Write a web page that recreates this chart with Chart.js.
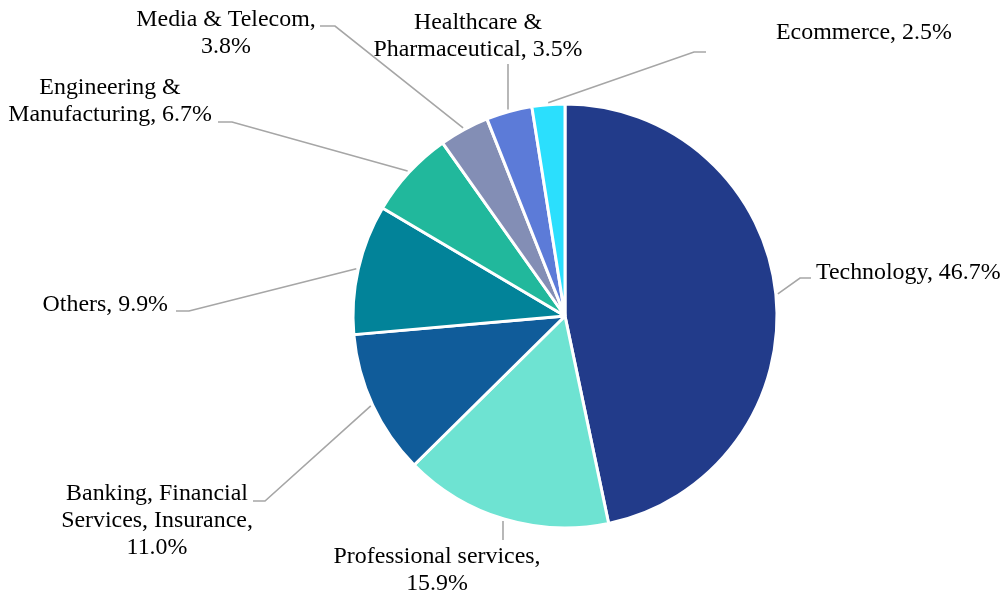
<!DOCTYPE html>
<html>
<head>
<meta charset="utf-8">
<script src="https://cdn.jsdelivr.net/npm/chart.js@4/dist/chart.umd.min.js"></script>
<style>
  html, body { margin: 0; padding: 0; background: #ffffff; }
  #wrap { width: 1004px; height: 595px; }
</style>
</head>
<body>
<div id="wrap"><canvas id="c" width="1004" height="595"></canvas></div>
<script>
// Share of hires by sector (%), clockwise from 12 o'clock
const categories = [
  'Technology',
  'Professional services',
  'Banking, Financial Services, Insurance',
  'Others',
  'Engineering & Manufacturing',
  'Media & Telecom',
  'Healthcare & Pharmaceutical',
  'Ecommerce'
];
const shares = [46.7, 15.9, 11.0, 9.9, 6.7, 3.8, 3.5, 2.5];
const sliceColors = ['#223B8A', '#6EE3D2', '#105C9A', '#028399', '#21B89C', '#838EB5', '#5C7BD8', '#2BDFFD'];

// Label placement: words per text line, text anchor, leader bends
const labelLayout = [
  { words: [4],       x: 816, y: 273, align: 'left',   bends: [[800, 278], [811, 278]] },
  { words: [2, 1],    x: 437, y: 557, align: 'center', bends: [[503, 540]] },
  { words: [2, 2, 1], x: 157, y: 494, align: 'center', bends: [[265, 501], [253, 501]] },
  { words: [2],       x: 168, y: 305, align: 'right',  bends: [[189, 311], [176, 311]] },
  { words: [2, 2],    x: 110, y: 88,  align: 'center', bends: [[232, 122], [218, 122]] },
  { words: [3, 1],    x: 226, y: 20,  align: 'center', bends: [[335, 26], [320, 26]] },
  { words: [2, 2],    x: 478, y: 23,  align: 'center', bends: [[508, 64]] },
  { words: [2],       x: 776, y: 33,  align: 'left',   bends: [[694, 52], [706, 52]] }
];

const LINE_H = 27;
const LABEL_FONT = '23.9px "Liberation Serif", "Times New Roman", Times, serif';

const leaderLabels = {
  id: 'leaderLabels',
  afterDraw(chart) {
    const ctx = chart.ctx;
    const meta = chart.getDatasetMeta(0);
    ctx.save();
    meta.data.forEach((arc, i) => {
      const p = arc.getProps(['x', 'y', 'startAngle', 'endAngle', 'outerRadius'], true);
      const mid = (p.startAngle + p.endAngle) / 2;
      const r = p.outerRadius + 2;
      const ax = p.x + Math.cos(mid) * r;
      const ay = p.y + Math.sin(mid) * r;
      const lay = labelLayout[i];

      // leader line
      ctx.beginPath();
      ctx.strokeStyle = '#A6A6A6';
      ctx.lineWidth = 1.6;
      if (lay.bends.length === 1 && Math.abs(lay.bends[0][0] - ax) < 3) {
        ctx.moveTo(lay.bends[0][0], ay);
      } else {
        ctx.moveTo(ax, ay);
      }
      lay.bends.forEach(b => ctx.lineTo(b[0], b[1]));
      ctx.stroke();

      // label text built from category and value
      const text = categories[i] + ', ' + shares[i].toFixed(1) + '%';
      const words = text.split(' ');
      const lines = [];
      let k = 0;
      lay.words.forEach((n, li) => {
        const take = li === lay.words.length - 1 ? words.length - k : n;
        lines.push(words.slice(k, k + take).join(' '));
        k += take;
      });
      ctx.fillStyle = '#000000';
      ctx.font = LABEL_FONT;
      ctx.textAlign = lay.align;
      ctx.textBaseline = 'middle';
      lines.forEach((ln, li) => ctx.fillText(ln, lay.x, lay.y + li * LINE_H));
    });
    ctx.restore();
  }
};

function draw() {
  new Chart(document.getElementById('c'), {
    type: 'pie',
    data: {
      labels: categories,
      datasets: [{
        data: shares,
        backgroundColor: sliceColors,
        borderColor: '#ffffff',
        borderWidth: 3
      }]
    },
    options: {
      responsive: false,
      animation: false,
      radius: 212,
      layout: { padding: { left: 353, right: 227, top: 104, bottom: 67 } },
      plugins: {
        legend: { display: false },
        tooltip: { enabled: false }
      }
    },
    plugins: [leaderLabels]
  });
}

if (document.fonts && document.fonts.load) {
  document.fonts.load(LABEL_FONT, 'Technology').then(draw, draw);
} else {
  draw();
}
</script>
</body>
</html>
